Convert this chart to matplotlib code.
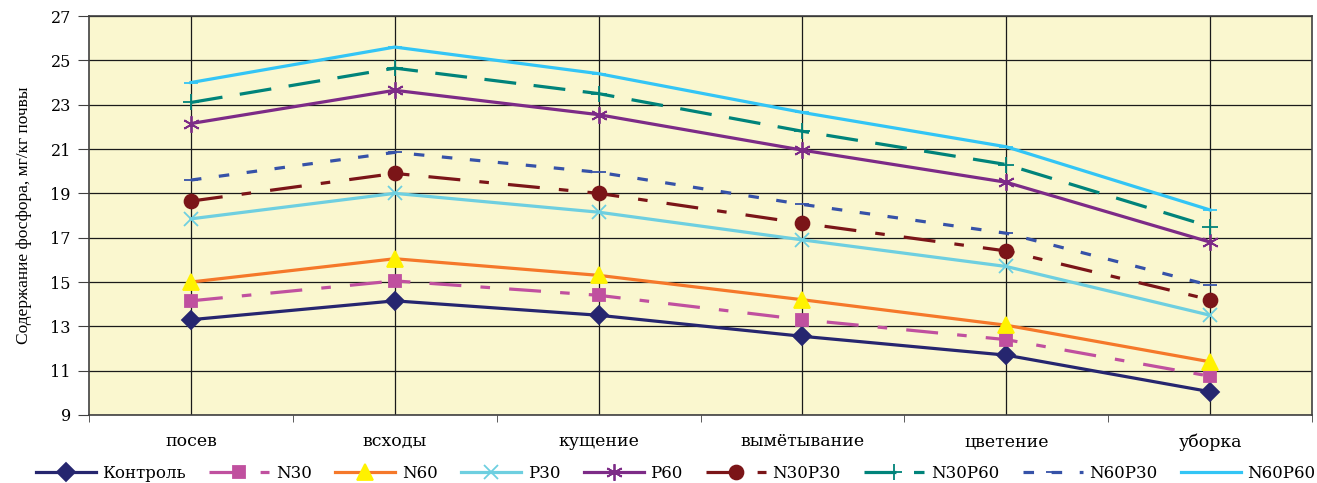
import matplotlib.pyplot as plt
from matplotlib import ticker

# Phosphorus content in soil by growth stage, mg/kg
stages = ["посев", "всходы", "кущение", "вымётывание", "цветение", "уборка"]
y_ticks = [9, 11, 13, 15, 17, 19, 21, 23, 25, 27]

control = [13.3, 14.15, 13.5, 12.55, 11.7, 10.05]
n30 = [14.15, 15.05, 14.4, 13.3, 12.4, 10.75]
n60 = [15.0, 16.05, 15.3, 14.2, 13.05, 11.4]
p30 = [17.85, 19.0, 18.15, 16.9, 15.7, 13.5]
p60 = [22.15, 23.65, 22.55, 20.95, 19.5, 16.8]
n30p30 = [18.65, 19.9, 19.0, 17.65, 16.4, 14.2]
n30p60 = [23.1, 24.65, 23.5, 21.8, 20.3, 17.5]
n60p30 = [19.6, 20.85, 19.95, 18.5, 17.2, 14.85]
n60p60 = [24.0, 25.6, 24.4, 22.65, 21.1, 18.25]

# (label, values, colour, marker, marker size, marker colour, dash pattern)
series = [
  ("Контроль", control, "#26266f", "D", 9, "#26266f", None),
  ("N30", n30, "#c0509f", "s", 9, "#c0509f", (10, 6, 3, 6)),
  ("N60", n60, "#f5782a", "^", 11, "#fff200", None),
  ("P30", p30, "#6ecfe0", "x", 10, "#6ecfe0", None),
  ("P60", p60, "#7d2b87", (6, 2, 0), 12, "#7d2b87", None),
  ("N30P30", n30p30, "#7b1518", "o", 10, "#7b1518", (10, 6, 3, 6)),
  ("N30P60", n30p60, "#00837a", "+", 11, "#00837a", (10, 5.5)),
  ("N60P30", n60p30, "#3652a8", "_", 10, "#3652a8", (3.3, 5.5)),
  ("N60P60", n60p60, "#33c5f5", "_", 10, "#33c5f5", None),
]

SERIF = ["DejaVu Serif"]

fig = plt.figure(figsize=(13.17, 4.83), dpi=100)
ax = fig.add_axes([0.0676, 0.1408, 0.9286, 0.826])
ax.set_facecolor("#faf7cf")

xs = list(range(len(stages)))
for name, values, colour, marker, msize, mcolour, dashes in series:
  line, = ax.plot(xs, values, color=colour, lw=2.3, marker=marker, markersize=msize,
                  markerfacecolor=mcolour, markeredgecolor=mcolour, markeredgewidth=1.3,
                  label=name, solid_joinstyle="miter")
  if dashes is not None:
    line.set_dashes(dashes)

ax.set_xlim(-0.5, len(stages) - 0.5)
ax.set_ylim(y_ticks[0], y_ticks[-1])
ax.yaxis.set_major_locator(ticker.FixedLocator(y_ticks))

# Category labels at the centres, tick marks on the boundaries between them
ax.set_xticks(xs)
ax.set_xticklabels(stages, fontfamily=SERIF, fontsize=12.5)
ax.set_xticks([x - 0.5 for x in range(len(stages) + 1)], minor=True)
ax.tick_params(axis="x", which="major", length=0, pad=13)
ax.tick_params(axis="x", which="minor", length=5, direction="out", color="#404040")
ax.tick_params(axis="y", length=8, direction="out", color="#404040", pad=5)
for label in ax.get_yticklabels():
  label.set_fontfamily(SERIF)
  label.set_fontsize(11.5)

ax.grid(True, which="major", color="#1a1a1a", lw=0.9)
ax.set_axisbelow(True)
for spine in ax.spines.values():
  spine.set_color("#404040")
  spine.set_linewidth(1.2)

ax.set_ylabel("Содержание фосфора, мг/кг почвы", fontfamily="Liberation Serif",
              fontsize=12.5, labelpad=13)

fig.legend(loc="center", bbox_to_anchor=(0.513, 0.02), ncol=len(series), frameon=False,
           prop={"family": SERIF, "size": 12}, handlelength=3.6, handletextpad=0.4,
           columnspacing=1.4, numpoints=1, borderaxespad=0)

fig.savefig("out.png", dpi=100)
